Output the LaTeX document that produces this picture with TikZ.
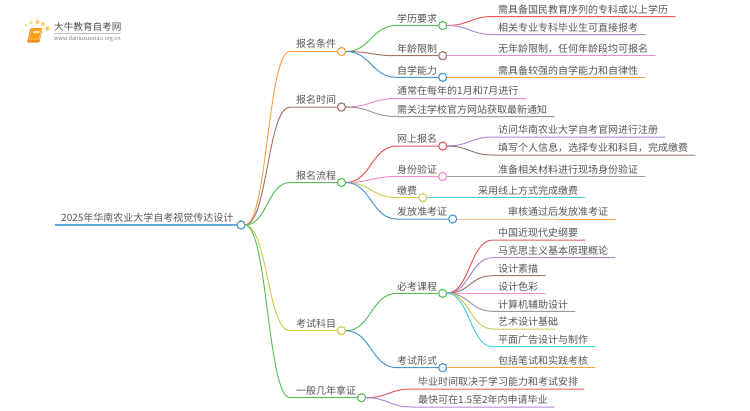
\documentclass[tikz,border=0pt]{standalone}
\usepackage{fontspec}
\setmainfont{Noto Sans CJK SC}[Scale=1]
\usetikzlibrary{calc}
\definecolor{cOrange}{HTML}{FF9F4A}
\definecolor{cBrown}{HTML}{A0756B}
\definecolor{cGreen}{HTML}{5CBF5C}
\definecolor{cYellow}{HTML}{D2CC55}
\definecolor{cBlue}{HTML}{4A97D2}
\definecolor{cRed}{HTML}{E8585A}
\definecolor{cPurple}{HTML}{B088D6}
\definecolor{cPink}{HTML}{F08CD0}
\definecolor{cGray}{HTML}{999999}
\definecolor{cCyan}{HTML}{4FD0E0}
\definecolor{cText}{HTML}{555555}
\definecolor{cDot}{HTML}{FFC95C}
\definecolor{cBook}{HTML}{F7A11B}
\tikzset{
  x=1pt,y=-1pt,
  lbl/.style={anchor=west,inner sep=0pt,text=cText,font=\fontsize{10}{10}\selectfont},
  knob/.style={circle,draw=#1,fill=white,line width=1pt,minimum size=8pt,inner sep=0pt},
  wire/.style={line width=1pt,line cap=round},
}
\begin{document}
\begin{tikzpicture}
\useasboundingbox (0,0) rectangle (750,410);
% logo
\foreach \a/\b/\r/\o in {23/42.5/0.9/.25,22/36/1/.35,22/31/1.2/.45,26/25.5/1.5/.6,31/22.5/1.8/.8,37.5/22/2/.9,43/24/2/.9,47.5/28.5/2.2/1}
  {\fill[cDot,opacity=\o] (\a,\b) circle (\r);}
\fill[cBook!85!red,rounded corners=1.2pt] (30.5,28) -- (42.5,28) -- (39.5,42.5) -- (27,42.5) -- cycle;
\fill[cBook!60!white,rounded corners=1pt] (31.5,28.8) -- (42,28.8) -- (39.5,40) -- (28.5,40) -- cycle;
\fill[cBook,rounded corners=1pt] (31.8,29) -- (41,29) -- (38.8,39.6) -- (29.3,39.6) -- cycle;
\fill[white!70!cBook] (33.4,31) -- (39.6,31) -- (39.2,33) -- (33,33) -- cycle;
\node[lbl,text=black!70] (logoa) at (54,27) {\fontsize{9.6}{10}\selectfont 大牛教育自考网};
\coordinate (la) at (54,33.3); \coordinate (lb) at (121,33.3);
\draw[black!25,line width=.5pt] (la) -- (lb);
\node[lbl,text=black!50] (logob) at (54,38.8) {\fontsize{5.5}{6}\selectfont www.daniuxuexiao.org.cn};

% hubs
\node[knob=cBlue] (root) at (241,225) {};
\foreach \n/\x/\y/\c in {m1/341.5/51.5/cOrange,m2/341.5/107/cBrown,m3/341.5/182.5/cGreen,m4/341.5/330.7/cYellow,m5/361.5/397.7/cGreen,
  s1/442.7/25.5/cGreen,s2/442.7/55.7/cBrown,s3/442.7/77.3/cBlue,
  s4/442.7/146/cRed,s5/442.7/176.5/cPink,s6/422.7/197.7/cYellow,s7/452.7/219/cBlue,
  s8/442.7/293.3/cGreen,s9/442.7/367.7/cBlue}
  {\node[knob=\c] (\n) at (\x,\y) {};}

% helper: \cv{colour}{from}{bend x}{y}{end x}
\newcommand{\cv}[5]{%
  \path (#2.center) ++(4,0) coordinate (st);
  \coordinate (tg) at (#3,#4);
  \coordinate (en) at (#5,#4);
  \draw[wire,#1] (st) .. controls ($(st)!.5!(tg |- st)$) and ($(tg)!.5!(st |- tg)$) .. (tg) -- (en);}

\draw[cBlue!85,line width=1.5pt] (55,225) -- (root.west);
\cv{cOrange}{root}{290}{51.5}{337.5}
\cv{cBrown}{root}{290}{107}{337.5}
\cv{cGreen}{root}{290}{182.5}{337.5}
\cv{cYellow}{root}{290}{330.7}{337.5}
\cv{cGreen}{root}{290}{397.7}{357.5}

\cv{cGreen}{m1}{397}{25.5}{438.7}
\cv{cBrown}{m1}{397}{55.7}{438.7}
\cv{cBlue}{m1}{397}{77.3}{438.7}
\cv{cPink}{m2}{397}{98.5}{526}
\cv{cGray}{m2}{397}{116.5}{554}
\cv{cRed}{m3}{397}{146}{438.7}
\cv{cPink}{m3}{397}{176.5}{438.7}
\cv{cYellow}{m3}{397}{197.7}{418.7}
\cv{cBlue}{m3}{397}{219}{448.7}
\cv{cGreen}{m4}{397}{293.3}{438.7}
\cv{cBlue}{m4}{397}{367.7}{438.7}
\cv{cRed}{m5}{412}{389}{584}
\cv{cPurple}{m5}{412}{407}{554}

\cv{cRed}{s1}{493}{16.5}{675}
\cv{cPurple}{s1}{493}{34.5}{645}
\cv{cPink}{s2}{493}{55.7}{655}
\cv{cOrange}{s3}{493}{77.3}{645}
\cv{cPurple}{s4}{493}{137}{665}
\cv{cBrown}{s4}{493}{155}{695}
\cv{cGray}{s5}{493}{176.5}{645}
\cv{cCyan}{s6}{473}{197.7}{585}
\cv{cOrange}{s7}{503}{219}{615}
\cv{cRed}{s8}{493}{240}{585}
\cv{cPurple}{s8}{493}{257.7}{615}
\cv{cBrown}{s8}{493}{275.7}{545}
\cv{cPink}{s8}{493}{293.3}{545}
\cv{cGray}{s8}{493}{311.3}{575}
\cv{cYellow}{s8}{493}{329}{555}
\cv{cCyan}{s8}{493}{346.7}{595}
\cv{cOrange}{s9}{493}{367.7}{595}

% redraw knobs on top
\foreach \n/\c in {root/cBlue,m1/cOrange,m2/cBrown,m3/cGreen,m4/cYellow,m5/cGreen,s1/cGreen,s2/cBrown,s3/cBlue,s4/cRed,s5/cPink,s6/cYellow,s7/cBlue,s8/cGreen,s9/cBlue}
  {\node[knob=\c] at (\n.center) {};}

% labels
\node[lbl] (t0) at (61,218) {2025年华南农业大学自考视觉传达设计};
\foreach \n/\y/\t in {a/44/报名条件,b/100/报名时间,c/175.5/报名流程,d/323.5/考试科目}
  {\node[lbl] (t\n) at (296,\y) {\t};}
\node[lbl] (te) at (296,390.7) {一般几年拿证};
\foreach \n/\y/\t in {f/18.5/学历要求,g/48.7/年龄限制,h/70.3/自学能力,i/91/通常在每年的1月和7月进行,j/109.5/需关注学校官方网站获取最新通知,k/139/网上报名,l/169.5/身份验证,n/286.3/必考课程,o/360.7/考试形式,p/212/发放准考证}
  {\node[lbl] (t\n) at (397,\y) {\t};}
\node[lbl] (tm) at (397,190.7) {缴费};
\foreach \n/\y/\t in {q/10/需具备国民教育序列的专科或以上学历,r/27.8/相关专业专科毕业生可直接报考,s/48.7/无年龄限制，任何年龄段均可报名,u/70.3/需具备较强的自学能力和自律性,v/130/访问华南农业大学自考官网进行注册,w/148/填写个人信息，选择专业和科目，完成缴费,x/169.5/准备相关材料进行现场身份验证,y/233/中国近现代史纲要,z/250.7/马克思主义基本原理概论,aa/268.7/设计素描,ab/286.3/设计色彩,ac/304.3/计算机辅助设计,ad/322/艺术设计基础,ae/339.7/平面广告设计与制作,af/360.7/包括笔试和实践考核}
  {\node[lbl] (t\n) at (498,\y) {\t};}
\node[lbl] (tag) at (478,190.7) {采用线上方式完成缴费};
\node[lbl] (tah) at (508,212) {审核通过后发放准考证};
\node[lbl] (tai) at (418,382) {毕业时间取决于学习能力和考试安排};
\node[lbl] (taj) at (418,400) {最快可在1.5至2年内申请毕业};
\end{tikzpicture}
\end{document}
